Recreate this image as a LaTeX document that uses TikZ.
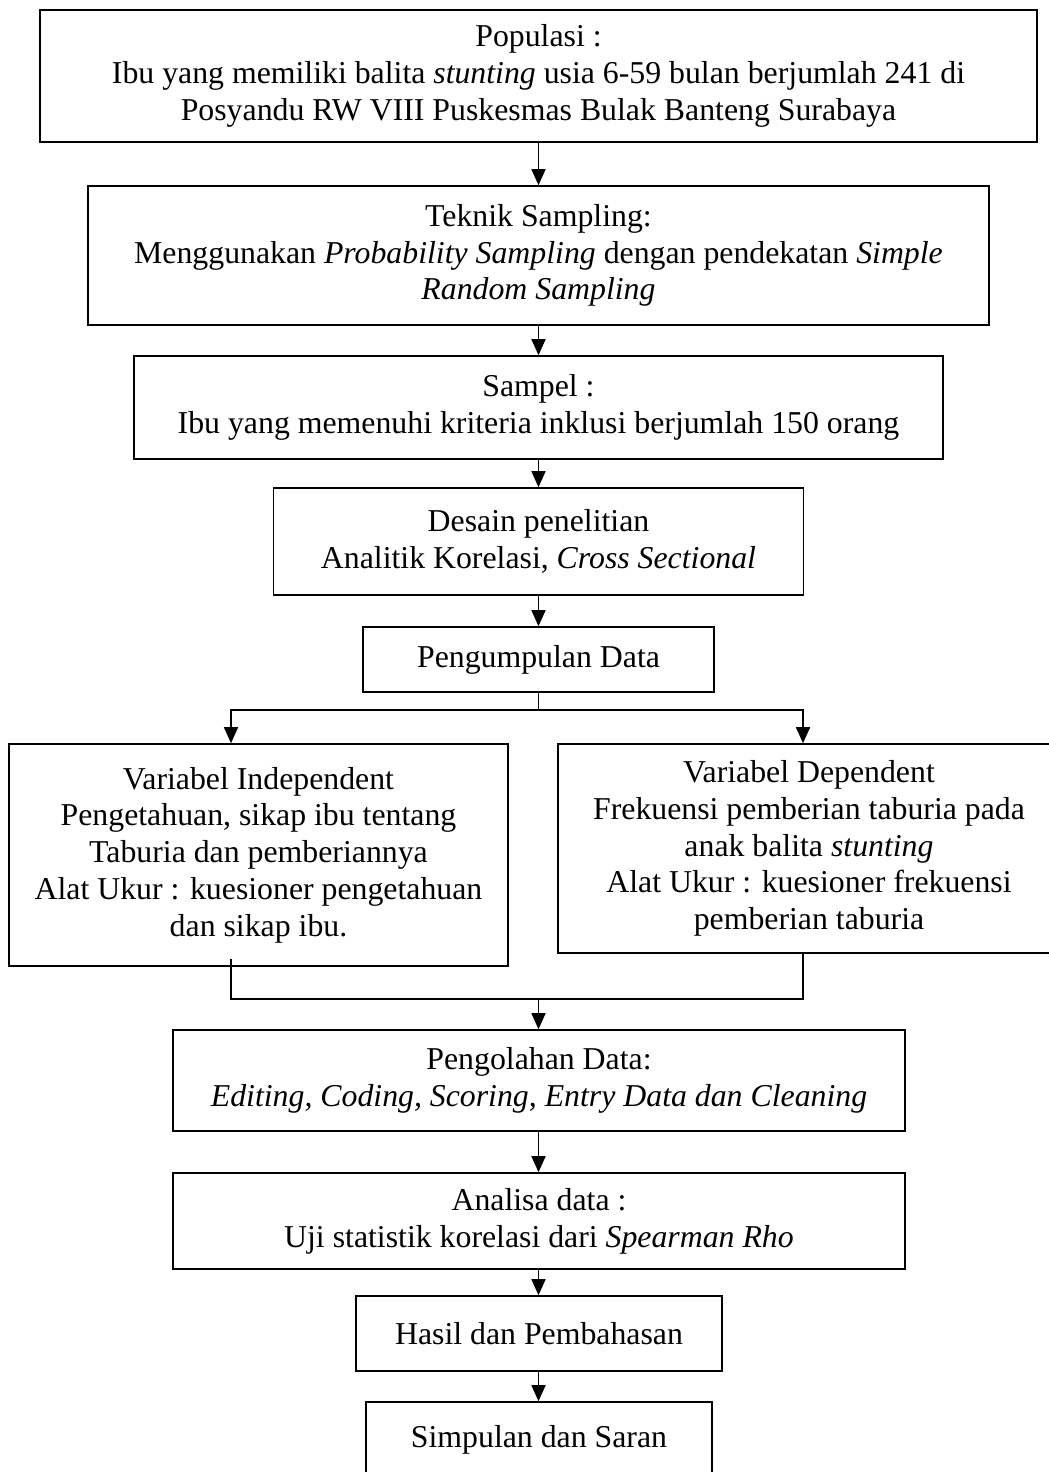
\documentclass[tikz,border=0pt]{standalone}
\usepackage{fontspec}
\setmainfont{Liberation Serif}
\usetikzlibrary{arrows.meta}

\begin{document}
\begin{tikzpicture}[
    x=0.5pt, y=-0.5pt,
    font=\fontsize{15.9}{18.4}\selectfont,
    box/.style={
        rectangle, draw, line width=0.8pt,
        align=center, inner sep=2pt
    },
    conn/.style={-{Triangle[length=8pt,width=7pt]}, line width=0.8pt},
    line/.style={line width=0.8pt},
]
    \useasboundingbox (0,0) rectangle (1049,1472);

    % Column x-coordinates (centre line and the two variable columns).
    \def\xMid{538.5}
    \def\xKiri{258.5}
    \def\xKanan{809}

    % Branch columns of the split and merge lines.
    \coordinate (kolKiri) at (231, 0);
    \coordinate (kolKanan) at (803, 0);

    % ---------- Alur atas ----------
    \node[box, minimum width=498.5pt, minimum height=66pt] (populasi) at (\xMid, 76)
        {Populasi :\\Ibu yang memiliki balita \textit{stunting} usia 6-59 bulan berjumlah 241 di\\Posyandu RW VIII Puskesmas Bulak Banteng Surabaya};
    \node[box, minimum width=450.5pt, minimum height=69.5pt] (teknik) at (\xMid, 255.5)
        {Teknik Sampling:\\Menggunakan \textit{Probability Sampling} dengan pendekatan \textit{Simple}\\\textit{Random Sampling}};
    \node[box, minimum width=404.5pt, minimum height=51.5pt] (sampel) at (\xMid, 407.5)
        {Sampel :\\Ibu yang memenuhi kriteria inklusi berjumlah 150 orang};
    \node[box, minimum width=265pt, minimum height=53.5pt] (desain) at (\xMid, 541.5)
        {Desain penelitian\\Analitik Korelasi, \textit{Cross Sectional}};
    \node[box, minimum width=175.5pt, minimum height=32.5pt] (kumpul) at (\xMid, 659.5)
        {Pengumpulan Data};

    \draw[conn] (populasi) -- (teknik);
    \draw[conn] (teknik) -- (sampel);
    \draw[conn] (sampel) -- (desain);
    \draw[conn] (desain) -- (kumpul);

    % ---------- Variabel ----------
    \node[box, minimum width=249.5pt, minimum height=111pt] (independen) at (\xKiri, 855)
        {Variabel Independent\\Pengetahuan, sikap ibu tentang\\Taburia dan pemberiannya\\Alat Ukur : kuesioner pengetahuan\\dan sikap ibu.};
    \node[box, minimum width=251pt, minimum height=104.5pt] (dependen) at (\xKanan, 848.5)
        {Variabel Dependent\\Frekuensi pemberian taburia pada\\anak balita \textit{stunting}\\Alat Ukur : kuesioner frekuensi\\pemberian taburia};

    % split: one line down, then a bar to both columns
    \coordinate (cabang) at (\xMid, 710);
    \draw[line] (kumpul) -- (cabang);
    \draw[conn] (cabang) -| (independen.north -| kolKiri);
    \draw[conn] (cabang) -| (dependen.north -| kolKanan);

    % merge: both columns join on one bar
    \coordinate (gabung) at (\xMid, 999);
    \draw[line] ([yshift=4pt]independen.south -| kolKiri) |- (gabung);
    \draw[line] (dependen.south -| kolKanan) |- (gabung);

    % ---------- Alur bawah ----------
    \node[box, minimum width=366pt, minimum height=50.5pt] (olah) at (539, 1080.5)
        {Pengolahan Data:\\\textit{Editing, Coding, Scoring, Entry Data dan Cleaning}};
    \node[box, minimum width=366pt, minimum height=48pt] (analisa) at (539, 1221)
        {Analisa data :\\Uji statistik korelasi dari \textit{Spearman Rho}};
    \node[box, minimum width=183pt, minimum height=37.5pt] (hasil) at (539, 1333.5)
        {Hasil dan Pembahasan};
    \node[box, minimum width=173pt, minimum height=38pt] (simpulan) at (539, 1440)
        {Simpulan dan Saran};

    \draw[conn] (gabung) -- (olah.north -| gabung);
    \draw[conn] (olah.south -| gabung) -- (analisa.north -| gabung);
    \draw[conn] (analisa.south -| gabung) -- (hasil.north -| gabung);
    \draw[conn] (hasil.south -| gabung) -- (simpulan.north -| gabung);

\end{tikzpicture}
\end{document}
